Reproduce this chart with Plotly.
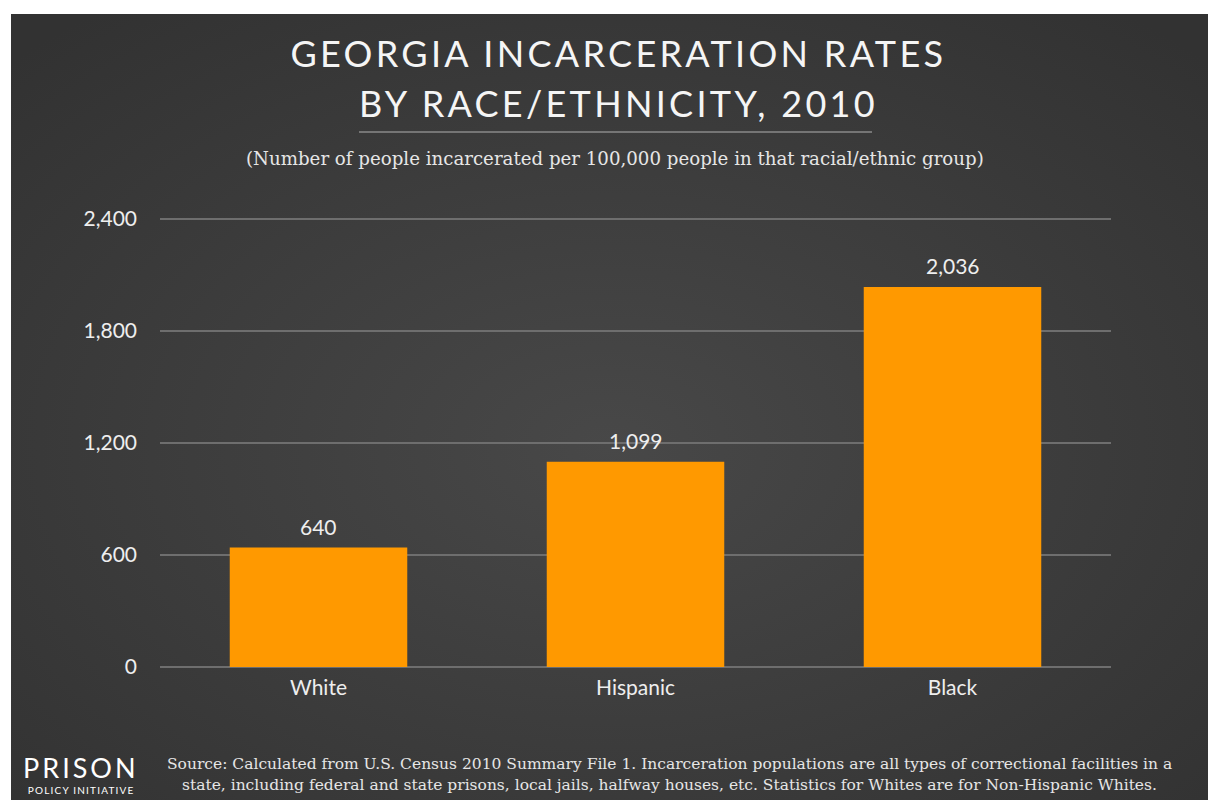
import base64
import plotly.graph_objects as go

categories = ["White", "Hispanic", "Black"]
rates = [640, 1099, 2036]
tick_values = [0, 600, 1200, 1800, 2400]

title_lines = ["GEORGIA INCARCERATION RATES", "BY RACE/ETHNICITY, 2010"]
subtitle = "(Number of people incarcerated per 100,000 people in that racial/ethnic group)"
source_lines = [
    "Source: Calculated from U.S. Census 2010 Summary File 1. Incarceration populations are all types of correctional facilities in a",
    "state, including federal and state prisons, local jails, halfway houses, etc. Statistics for Whites are for Non-Hispanic Whites.",
]

W, H = 1208, 800
L, R, T, B = 160, 97, 213, 133
PW, PH = W - L - R, H - T - B
Y_TOP = 2400 * PH / 448.0  # keep 2,400 gridline at y=219 px while leaving room above it


def px(x):
    return (x - L) / PW


def py(y):
    return (H - B - y) / PH


svg = (
    '<svg xmlns="http://www.w3.org/2000/svg" width="1197" height="786">'
    '<defs><radialGradient id="g" cx="50%" cy="55%" r="70%">'
    '<stop offset="0%" stop-color="#484848"/>'
    '<stop offset="100%" stop-color="#323232"/>'
    '</radialGradient></defs>'
    '<rect width="1197" height="786" fill="url(#g)"/></svg>'
)
bg_uri = "data:image/svg+xml;base64," + base64.b64encode(svg.encode()).decode()

fig = go.Figure(
    go.Bar(
        x=categories,
        y=rates,
        marker=dict(color="#FF9900", line=dict(width=0)),
        width=0.56,
        hoverinfo="x+y",
    )
)

fig.update_layout(
    width=W,
    height=H,
    margin=dict(l=L, r=R, t=T, b=B),
    paper_bgcolor="white",
    plot_bgcolor="rgba(0,0,0,0)",
    showlegend=False,
    images=[
        dict(
            source=bg_uri,
            xref="paper",
            yref="paper",
            x=px(11),
            y=py(14),
            sizex=px(1208) - px(11),
            sizey=py(14) - py(800),
            xanchor="left",
            yanchor="top",
            sizing="stretch",
            layer="below",
        )
    ],
    xaxis=dict(
        range=[-0.5, 2.5],
        showgrid=False,
        zeroline=False,
        showline=False,
        ticks="",
        ticklabelstandoff=6,
        tickfont=dict(family="Lato", size=21, color="#eeeeee"),
    ),
    yaxis=dict(
        range=[0, Y_TOP],
        tickvals=tick_values,
        tickformat=",",
        showgrid=True,
        gridcolor="#6e6e6e",
        gridwidth=1.5,
        zeroline=True,
        zerolinecolor="#6e6e6e",
        zerolinewidth=1.5,
        showline=False,
        ticks="",
        ticklabelstandoff=22,
        tickfont=dict(family="Lato", size=21, color="#eeeeee"),
    ),
)

annotations = [
    dict(text=title_lines[0], x=px(618), y=py(53), font=dict(family="Lato", size=36, color="#f5f5f5")),
    dict(text=title_lines[1], x=px(618), y=py(103), font=dict(family="Lato", size=36, color="#f5f5f5")),
    dict(text=subtitle, x=px(615), y=py(158), font=dict(family="DejaVu Serif", size=18.2, color="#e6e6e6")),
    dict(text=source_lines[0], x=px(669), y=py(764), font=dict(family="DejaVu Serif", size=15.5, color="#e6e6e6")),
    dict(text=source_lines[1], x=px(669), y=py(785), font=dict(family="DejaVu Serif", size=15.5, color="#e6e6e6")),
    dict(text="PRISON", x=px(81), y=py(767), font=dict(family="Lato", size=27, color="#ffffff")),
    dict(text="POLICY INITIATIVE", x=px(81), y=py(790), font=dict(family="Lato", size=10, color="#ffffff")),
]
for a in annotations:
    a.update(xref="paper", yref="paper", showarrow=False, xanchor="center", yanchor="middle")

for c, v in zip(categories, rates):
    annotations.append(
        dict(
            text=f"{v:,}",
            x=c,
            y=v,
            xref="x",
            yref="y",
            showarrow=False,
            xanchor="center",
            yanchor="middle",
            yshift=21,
            font=dict(family="Lato", size=21, color="#eeeeee"),
        )
    )
fig.update_layout(annotations=annotations)

fig.add_shape(
    type="line",
    xref="paper",
    yref="paper",
    x0=px(359),
    x1=px(872),
    y0=py(132),
    y1=py(132),
    line=dict(color="#8a8a8a", width=1.5),
)

post = """
document.body.style.margin = '0';
document.body.style.padding = '0';
var spacing = ['3.3px', '3.3px', null, null, null, '3px', '1.2px'];
var nodes = document.querySelectorAll('.annotation-text');
for (var i = 0; i < spacing.length && i < nodes.length; i++) {
  if (spacing[i]) { nodes[i].style.letterSpacing = spacing[i]; }
}
"""

fig.write_html("out.html", post_script=post, config={"displayModeBar": False})
